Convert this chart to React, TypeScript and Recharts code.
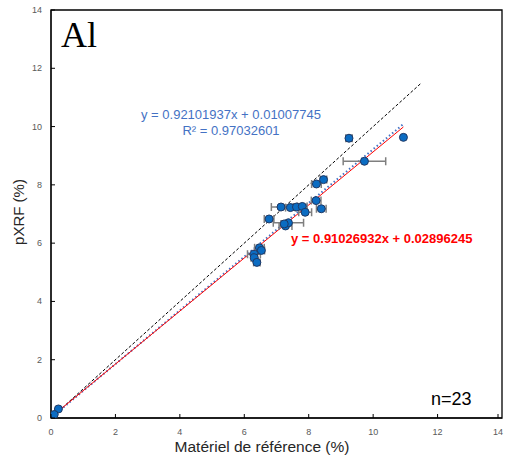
import React from "react";
import {
  ComposedChart,
  Scatter,
  ErrorBar,
  XAxis,
  YAxis,
  ReferenceLine,
  ReferenceArea,
} from "recharts";

// reference material (%) vs pXRF (%) for Al
const refValues = [
  9.25, 10.94, 9.73, 8.46, 8.24, 8.23, 8.39, 7.14, 7.43, 7.62, 7.8, 7.89,
  6.77, 7.28, 7.37, 7.24, 6.47, 6.53, 6.3, 6.31, 6.39, 0.23, 0.1,
];
const pxrfValues = [
  9.6, 9.63, 8.81, 8.18, 8.03, 7.46, 7.18, 7.24, 7.22, 7.24, 7.26, 7.06,
  6.83, 6.59, 6.7, 6.66, 5.84, 5.75, 5.62, 5.5, 5.34, 0.31, 0.12,
];
const refErrors = [
  0.1, 0, 0.66, 0.1, 0.15, 0.15, 0.15, 0.3, 0.15, 0.1, 0.15, 0.2,
  0.15, 0.2, 0.47, 0.1, 0.15, 0.1, 0.2, 0.1, 0.1, 0, 0,
];
const axisTicks = [0, 2, 4, 6, 8, 10, 12, 14];

// fitted lines
const fitAll = { slope: 0.92101937, intercept: 0.01007745, r2: 0.97032601 };
const fitRed = { slope: 0.91026932, intercept: 0.02896245 };
const oneToOneEnd = 11.5;

const points = refValues.map((x, i) => ({ x, y: pxrfValues[i], ex: refErrors[i] }));
const xMax = Math.max(...refValues);

const seg = (f: { slope: number; intercept: number }) => [
  { x: 0, y: f.intercept },
  { x: xMax, y: f.slope * xMax + f.intercept },
];

const fmt = (f: { slope: number; intercept: number }) =>
  `y = ${f.slope.toFixed(8)}x + ${f.intercept.toFixed(8)}`;

const tickFont = { fontFamily: "Liberation Sans, Arial, sans-serif", fontSize: 9, fill: "#595959" };

const XTick = ({ x, y, payload }: any) => (
  <g>
    <line x1={x} x2={x} y1={y} y2={y - 4} stroke="#000" />
    <text x={x} y={y + 17} textAnchor="middle" {...tickFont}>
      {payload.value}
    </text>
  </g>
);

const YTick = ({ x, y, payload }: any) => (
  <g>
    <line x1={x} x2={x + 4} y1={y} y2={y} stroke="#000" />
    <text x={x - 9} y={y + 3} textAnchor="end" {...tickFont}>
      {payload.value}
    </text>
  </g>
);

const Dot = (p: any) => (
  <circle cx={p.cx} cy={p.cy} r={4} fill="#0B6CC2" stroke="#1F3864" strokeWidth={1} />
);

const label = (extra: React.CSSProperties): React.CSSProperties => ({
  position: "absolute",
  fontFamily: "Liberation Sans, Arial, sans-serif",
  whiteSpace: "nowrap",
  ...extra,
});

export default function App() {
  return (
    <div style={{ position: "absolute", left: 0, top: 0, width: 506, height: 467, background: "#fff" }}>
      <ComposedChart
        width={506}
        height={467}
        data={points}
        margin={{ top: 10, right: 4, bottom: 0, left: 0 }}
      >
        <XAxis
          type="number"
          dataKey="x"
          domain={[0, 14]}
          ticks={axisTicks}
          allowDataOverflow
          height={49}
          tickSize={0}
          tickMargin={0}
          tick={<XTick />}
          axisLine={{ stroke: "#000" }}
        />
        <YAxis
          type="number"
          dataKey="y"
          domain={[0, 14]}
          ticks={axisTicks}
          allowDataOverflow
          width={51}
          tickSize={0}
          tickMargin={0}
          tick={<YTick />}
          axisLine={{ stroke: "#000" }}
        />
        <ReferenceArea x1={0} x2={14} y1={0} y2={14} fill="none" stroke="#000" strokeWidth={1.3} />
        <ReferenceLine
          segment={[{ x: 0, y: 0 }, { x: oneToOneEnd, y: oneToOneEnd }]}
          stroke="#000"
          strokeDasharray="3 2"
          strokeWidth={1}
        />
        <ReferenceLine
          segment={seg(fitAll)}
          stroke="#4472C4"
          strokeDasharray="1.5 2.5"
          strokeWidth={2}
        />
        <ReferenceLine segment={seg(fitRed)} stroke="#FF0000" strokeWidth={1} />
        <Scatter data={points} dataKey="y" shape={<Dot />} isAnimationActive={false}>
          <ErrorBar dataKey="ex" direction="x" width={4} stroke="#7F7F7F" strokeWidth={1.5} />
        </Scatter>
      </ComposedChart>

      <div style={label({ left: 61, top: 14, fontFamily: "Liberation Serif, serif", fontSize: 36 })}>Al</div>
      <div style={label({ left: 231, top: 107, transform: "translateX(-50%)", fontSize: 13, color: "#4472C4", textAlign: "center", lineHeight: "16px" })}>
        {fmt(fitAll)}
        <br />
        R² = {fitAll.r2.toFixed(8)}
      </div>
      <div style={label({ left: 291, top: 231, fontSize: 13, fontWeight: "bold", color: "#FF0000" })}>
        {fmt(fitRed)}
      </div>
      <div style={label({ left: 431, top: 389, fontSize: 18, color: "#000" })}>n=23</div>
      <div style={label({ left: 262, top: 438, transform: "translateX(-50%)", fontSize: 15.5, color: "#262626" })}>
        Matériel de référence (%)
      </div>
      <div
        style={label({
          left: 18,
          top: 212,
          transform: "translate(-50%, -50%) rotate(-90deg)",
          fontSize: 15,
          color: "#262626",
        })}
      >
        pXRF (%)
      </div>
    </div>
  );
}
